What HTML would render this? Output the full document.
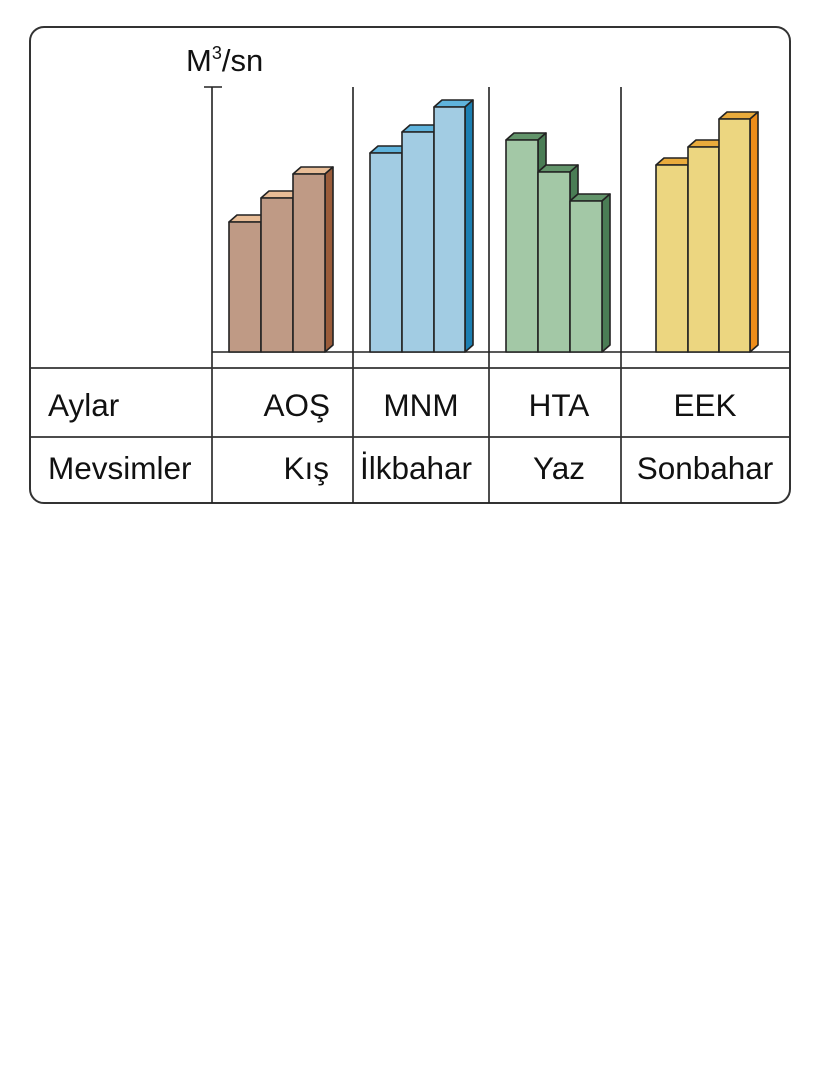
<!DOCTYPE html>
<html><head><meta charset="utf-8"><style>
html,body{margin:0;padding:0;background:#fff;}
svg{display:block;}
text{font-family:"Liberation Sans",Arial,sans-serif;fill:#111;}
</style></head><body>
<svg width="816" height="1084" viewBox="0 0 816 1084" xmlns="http://www.w3.org/2000/svg">
<rect width="816" height="1084" fill="#fff"/>
<rect x="30" y="27" width="760" height="476" rx="14" ry="14" fill="none" stroke="#333" stroke-width="2"/>
<line x1="212" y1="87" x2="212" y2="503" stroke="#222" stroke-width="1.6"/>
<line x1="204" y1="87" x2="222" y2="87" stroke="#222" stroke-width="1.6"/>
<line x1="353" y1="87" x2="353" y2="503" stroke="#222" stroke-width="1.6"/>
<line x1="489" y1="87" x2="489" y2="503" stroke="#222" stroke-width="1.6"/>
<line x1="621" y1="87" x2="621" y2="503" stroke="#222" stroke-width="1.6"/>
<line x1="212" y1="352" x2="790" y2="352" stroke="#222" stroke-width="1.6"/>
<line x1="30" y1="368" x2="790" y2="368" stroke="#333" stroke-width="1.8"/>
<line x1="30" y1="437" x2="790" y2="437" stroke="#333" stroke-width="1.8"/>
<g stroke="#222" stroke-width="1.6" stroke-linejoin="round">
<polygon points="229,222 237,215 269,215 261,222" fill="#e8bd97"/>
<polygon points="261,198 269,191 301,191 293,198" fill="#e8bd97"/>
<polygon points="293,174 301,167 333,167 325,174" fill="#e8bd97"/>
<polygon points="325,174 333,167 333,345 325,352" fill="#9a5c3a"/>
<rect x="229" y="222" width="32" height="130" fill="#bf9a85"/>
<rect x="261" y="198" width="32" height="154" fill="#bf9a85"/>
<rect x="293" y="174" width="32" height="178" fill="#bf9a85"/>
<polygon points="370,153 378,146 410,146 402,153" fill="#5fb3dc"/>
<polygon points="402,132 410,125 442,125 434,132" fill="#5fb3dc"/>
<polygon points="434,107 442,100 473,100 465,107" fill="#5fb3dc"/>
<polygon points="465,107 473,100 473,345 465,352" fill="#1c7fb2"/>
<rect x="370" y="153" width="32" height="199" fill="#a2cce3"/>
<rect x="402" y="132" width="32" height="220" fill="#a2cce3"/>
<rect x="434" y="107" width="31" height="245" fill="#a2cce3"/>
<polygon points="506,140 514,133 546,133 538,140" fill="#62946a"/>
<polygon points="538,140 546,133 546,165 538,172" fill="#4a7d55"/>
<polygon points="538,172 546,165 578,165 570,172" fill="#62946a"/>
<polygon points="570,172 578,165 578,194 570,201" fill="#4a7d55"/>
<polygon points="570,201 578,194 610,194 602,201" fill="#62946a"/>
<polygon points="602,201 610,194 610,345 602,352" fill="#4a7d55"/>
<rect x="506" y="140" width="32" height="212" fill="#a3c8a6"/>
<rect x="538" y="172" width="32" height="180" fill="#a3c8a6"/>
<rect x="570" y="201" width="32" height="151" fill="#a3c8a6"/>
<polygon points="656,165 664,158 696,158 688,165" fill="#e9ab3c"/>
<polygon points="688,147 696,140 727,140 719,147" fill="#e9ab3c"/>
<polygon points="719,119 727,112 758,112 750,119" fill="#e9ab3c"/>
<polygon points="750,119 758,112 758,345 750,352" fill="#ee8d1a"/>
<rect x="656" y="165" width="32" height="187" fill="#ecd680"/>
<rect x="688" y="147" width="31" height="205" fill="#ecd680"/>
<rect x="719" y="119" width="31" height="233" fill="#ecd680"/>
</g>
<text x="186" y="71" font-size="31">M<tspan font-size="18" dy="-12">3</tspan><tspan dy="12">/sn</tspan></text>
<text x="48" y="416" font-size="31.5">Aylar</text>
<text x="48" y="479" font-size="31.5">Mevsimler</text>
<text x="330" y="416" font-size="31.5" text-anchor="end">AOŞ</text>
<text x="329" y="479" font-size="31.5" text-anchor="end">Kış</text>
<text x="421" y="416" font-size="31.5" text-anchor="middle">MNM</text>
<text x="416" y="479" font-size="31.5" text-anchor="middle">İlkbahar</text>
<text x="559" y="416" font-size="31.5" text-anchor="middle">HTA</text>
<text x="559" y="479" font-size="31.5" text-anchor="middle">Yaz</text>
<text x="705" y="416" font-size="31.5" text-anchor="middle">EEK</text>
<text x="705" y="479" font-size="31.5" text-anchor="middle">Sonbahar</text>
</svg>
</body></html>
